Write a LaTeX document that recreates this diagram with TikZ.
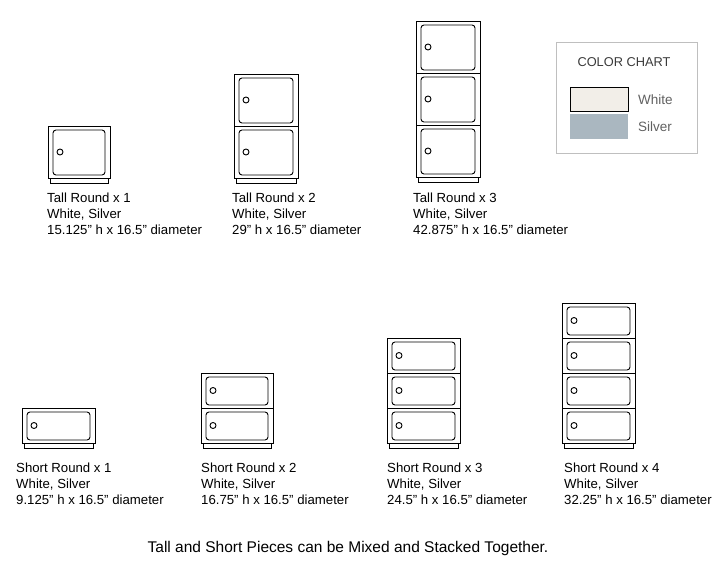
\documentclass[tikz,border=0pt]{standalone}
\usepackage{fontspec}
\setmainfont{Liberation Sans}
\definecolor{whitesw}{HTML}{F2EEE8}
\definecolor{silversw}{HTML}{AAB7C0}
\definecolor{chartgray}{HTML}{3A3A3A}
\newcommand{\dq}{\char34\relax}
\newcommand{\cabinet}[5]{% x, ytop, width, module height, n
  \pgfmathsetmacro{\cbot}{#2+#4*#5}
  \draw[cabline] (#1,#2) rectangle (#1+#3,\cbot);
  \draw[cabline] (#1+2,\cbot) rectangle (#1+#3-2,\cbot+5);
  \foreach \i in {1,...,#5}{
    \pgfmathsetmacro{\mt}{#2+#4*(\i-1)}
    \draw[cabline] (#1,\mt) -- (#1+#3,\mt);
    \draw[cabline,rounded corners=3] (#1+5,\mt+4) rectangle (#1+#3-5,\mt+#4-3);
    \draw[cabline] (#1+12,\mt+#4/2) circle (3);
  }}
\tikzset{cabline/.style={line width=0.9pt,black},
  lbl/.style={anchor=north west,inner sep=0,font=\fontsize{13.2}{16}\selectfont,align=left}}
\begin{document}
\begin{tikzpicture}[x=1pt,y=-1pt]
\useasboundingbox (0,0) rectangle (718,572);
% tall
\cabinet{48}{126}{62}{52}{1}
\cabinet{234}{74}{64}{52}{2}
\cabinet{416}{21}{64}{52}{3}
% short
\cabinet{22}{408}{73}{35}{1}
\cabinet{201}{373}{72}{35}{2}
\cabinet{387}{338}{73}{35}{3}
\cabinet{562}{303}{73}{35}{4}
% labels
\node[lbl] (t1) at (47,193) {Tall Round x 1\\White, Silver\\15.125\dq{} h x 16.5\dq{} diameter};
\node[lbl] (t2) at (232,193) {Tall Round x 2\\White, Silver\\29\dq{} h x 16.5\dq{} diameter};
\node[lbl] (t3) at (413,193) {Tall Round x 3\\White, Silver\\42.875\dq{} h x 16.5\dq{} diameter};
\node[lbl] (s1) at (16,463) {Short Round x 1\\White, Silver\\9.125\dq{} h x 16.5\dq{} diameter};
\node[lbl] (s2) at (201,463) {Short Round x 2\\White, Silver\\16.75\dq{} h x 16.5\dq{} diameter};
\node[lbl] (s3) at (387,463) {Short Round x 3\\White, Silver\\24.5\dq{} h x 16.5\dq{} diameter};
\node[lbl] (s4) at (564,463) {Short Round x 4\\White, Silver\\32.25\dq{} h x 16.5\dq{} diameter};
\node[font=\fontsize{15.5}{18}\selectfont] (cap) at (348,548) {Tall and Short Pieces can be Mixed and Stacked Together.};
% color chart
\draw[gray!50,line width=0.8pt] (556,42) rectangle (697,153);
\node[font=\fontsize{12.8}{14}\selectfont,text=chartgray] (ct) at (624,62) {COLOR CHART};
\draw[black,fill=whitesw,line width=0.7pt] (570,87) rectangle (628,111);
\fill[silversw] (570,114) rectangle (628,139);
\node[anchor=west,inner sep=0,font=\fontsize{13.5}{14}\selectfont,text=chartgray!80] (w) at (638,100) {White};
\node[anchor=west,inner sep=0,font=\fontsize{13.5}{14}\selectfont,text=chartgray!80] (s) at (638,127) {Silver};
\end{tikzpicture}
\end{document}
